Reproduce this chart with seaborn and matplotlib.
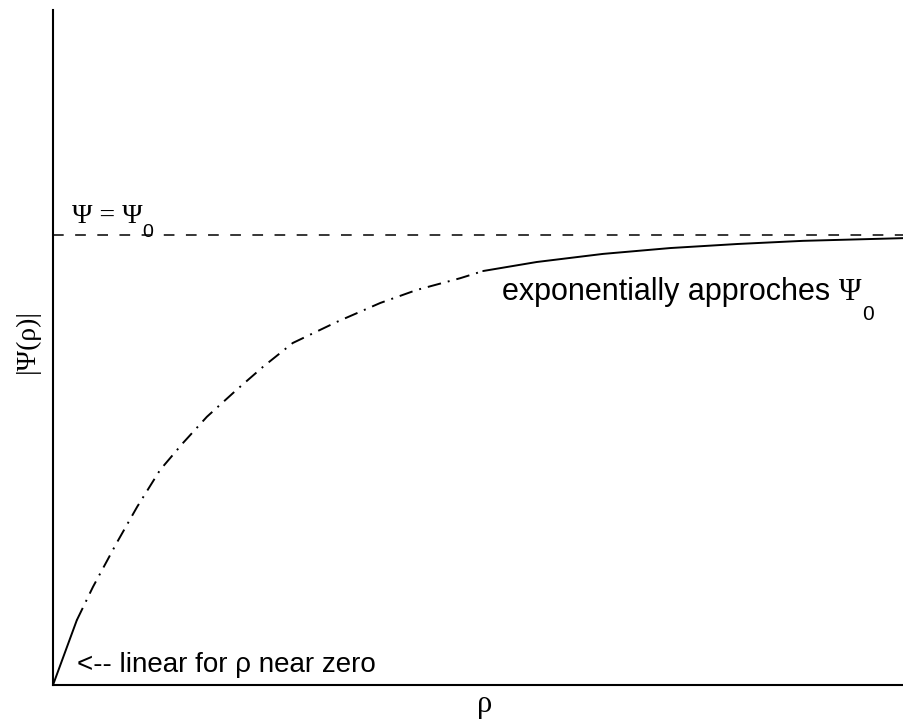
import numpy as np
import matplotlib
matplotlib.use("Agg")
import matplotlib.pyplot as plt
import seaborn as sns

# values (rho in arbitrary units, psi in units of psi0)
rho = [0.0, 0.28, 0.47, 0.75, 0.99, 1.26, 1.53, 1.81, 2.16, 2.47, 2.82,
       3.34, 3.85, 4.28, 4.79, 5.06, 5.69, 6.47, 7.26, 8.05, 8.82, 10.0]
psi = [0.0, 0.144, 0.218, 0.316, 0.396, 0.478, 0.538, 0.596, 0.656, 0.707, 0.760,
       0.807, 0.849, 0.878, 0.904, 0.920, 0.940, 0.958, 0.971, 0.980, 0.987, 0.993]
psi0 = 1.0

# where the drawn curve switches style (solid -> dash-dot -> solid)
rho_linear_end = 0.28
rho_approach_start = 5.06

rho = np.array(rho)
psi = np.array(psi)

sns.set_style("white")
plt.rcParams['font.family'] = ['Liberation Sans', 'DejaVu Sans']
plt.rcParams['text.color'] = 'black'

fig = plt.figure(figsize=(9.04, 7.22), dpi=100)
ax = fig.add_axes([53 / 904, 37 / 722, 851 / 904, 675 / 722])

lw = 1.4
# linear part near zero
m = rho <= rho_linear_end
sns.lineplot(x=rho[m], y=psi[m], ax=ax, color='black', lw=lw, clip_on=False)
# middle part, dash-dot
m = (rho >= rho_linear_end) & (rho <= rho_approach_start)
sns.lineplot(x=rho[m], y=psi[m], ax=ax, color='black', lw=lw,
             linestyle=(0, (7.0, 3.6, 1.0, 3.6)), clip_on=False)
# exponential approach, solid
m = rho >= rho_approach_start
sns.lineplot(x=rho[m], y=psi[m], ax=ax, color='black', lw=lw, clip_on=False)

ax.axhline(psi0, color='black', lw=1.1, linestyle=(0, (7.0, 7.5)))

ax.set_xlim(0, 10.01)
ax.set_ylim(0, 1.5)
ax.set_xticks([])
ax.set_yticks([])
for s in ['top', 'right']:
    ax.spines[s].set_visible(False)
for s in ['left', 'bottom']:
    ax.spines[s].set_color('black')
    ax.spines[s].set_linewidth(1.5)

ax.set_xlabel('ρ', fontsize=22, family='Liberation Serif', color='black')
ax.xaxis.set_label_coords(0.507, -0.008, transform=ax.transAxes)
ax.xaxis.label.set_va('top')
ax.set_ylabel('|Ψ(ρ)|', fontsize=20, family='Liberation Serif', color='black')
ax.yaxis.set_label_coords(-0.016, 0.51, transform=ax.transAxes)

renderer = fig.canvas.get_renderer()


def next_to(t, dx, dy, s, **kw):
    # put text s right after text t, shifted by dx, dy pixels from t's baseline
    bb = t.get_window_extent(renderer)
    _, y0 = ax.transData.transform(t.get_position())
    x, y = ax.transData.inverted().transform((bb.x1 + dx, y0 + dy))
    return ax.text(x, y, s, va='baseline', ha='left', **kw)


t = ax.text(0.22, 1.027, 'Ψ = Ψ', fontsize=20, family='Liberation Serif',
            va='baseline', ha='left')
next_to(t, 0, -14, '0', fontsize=14)

t = ax.text(5.28, 0.855, 'exponentially approches ', fontsize=22,
            va='baseline', ha='left')
t = next_to(t, 0, 0, 'Ψ', fontsize=22, family='Liberation Serif')
next_to(t, 1, -20, '0', fontsize=15)

ax.text(0.28, 0.029, '<-- linear for ρ near zero', fontsize=20,
        va='baseline', ha='left')

fig.savefig('out.png', dpi=100)
